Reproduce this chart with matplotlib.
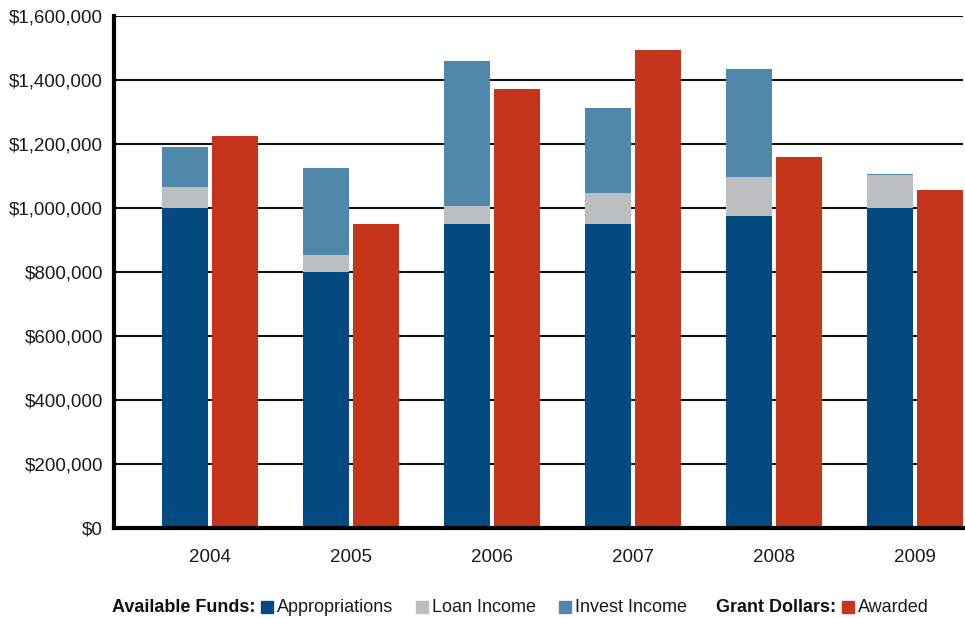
import numpy as np
import matplotlib
matplotlib.use("Agg")
import matplotlib.pyplot as plt
from matplotlib.patches import Rectangle
from matplotlib.ticker import FuncFormatter

plt.rcParams['font.family'] = ['Liberation Sans', 'DejaVu Sans']

years = ['2004', '2005', '2006', '2007', '2008', '2009']
appropriations = [1000000, 800000, 950000, 950000, 975000, 1000000]
loan_income = [66000, 53000, 56000, 97000, 122000, 103000]
invest_income = [125000, 272000, 453000, 266000, 337000, 3000]
awarded = [1225000, 950000, 1372000, 1494000, 1159000, 1056000]

c_approp = '#034a80'
c_loan = '#bdbec0'
c_invest = '#4f88ab'
c_award = '#c4351c'

fig = plt.figure(figsize=(9.65, 6.18), dpi=100)
ax = fig.add_axes([114 / 965, 1 - 528 / 618, (963 - 114) / 965, 512 / 618])

x = np.arange(len(years))
w = 0.326
off = 0.177
app = np.array(appropriations)
loan = np.array(loan_income)
inv = np.array(invest_income)

ax.bar(x - off, app, w, color=c_approp, zorder=3)
ax.bar(x - off, loan, w, bottom=app, color=c_loan, zorder=3)
ax.bar(x - off, inv, w, bottom=app + loan, color=c_invest, zorder=3)
ax.bar(x + off, awarded, w, color=c_award, zorder=3)

ax.set_xlim(-0.68, 5.34)
ax.set_ylim(0, 1600000)
ax.set_yticks(np.arange(0, 1600001, 200000))
ax.yaxis.set_major_formatter(FuncFormatter(lambda v, p: '${:,.0f}'.format(v)))
ax.set_xticks(x)
ax.set_xticklabels(years)
ax.tick_params(axis='y', length=0, pad=8, labelsize=13.5, labelcolor='#1a1a1a')
ax.tick_params(axis='x', length=0, pad=15, labelsize=13.5, labelcolor='#1a1a1a')

ax.grid(axis='y', color='#111111', linewidth=1.5, zorder=1)
for s in ['top', 'right']:
    ax.spines[s].set_visible(False)
ax.spines['left'].set_linewidth(3)
ax.spines['bottom'].set_linewidth(3)
ax.spines['bottom'].set_zorder(4)

# legend row drawn by hand in pixel units
def px(xp, yp):
    return xp / 965, 1 - yp / 618

ly = 607
fig.text(*px(112, ly), 'Available Funds:', fontsize=13, fontweight='bold',
         va='center', ha='left', color='#111111')
fig.text(*px(716, ly), 'Grant Dollars:', fontsize=13, fontweight='bold',
         va='center', ha='left', color='#111111')
items = [(261, c_approp, 'Appropriations'), (416, c_loan, 'Loan Income'),
         (559, c_invest, 'Invest Income'), (842, c_award, 'Awarded')]
for xs, col, lab in items:
    x0, y0 = px(xs, ly + 6)
    fig.patches.append(Rectangle((x0, y0), 12 / 965, 12 / 618, color=col,
                                 transform=fig.transFigure, figure=fig))
    fig.text(*px(xs + 16, ly), lab, fontsize=13, va='center', ha='left',
             color='#1a1a1a')

fig.savefig('out.png', dpi=100)
